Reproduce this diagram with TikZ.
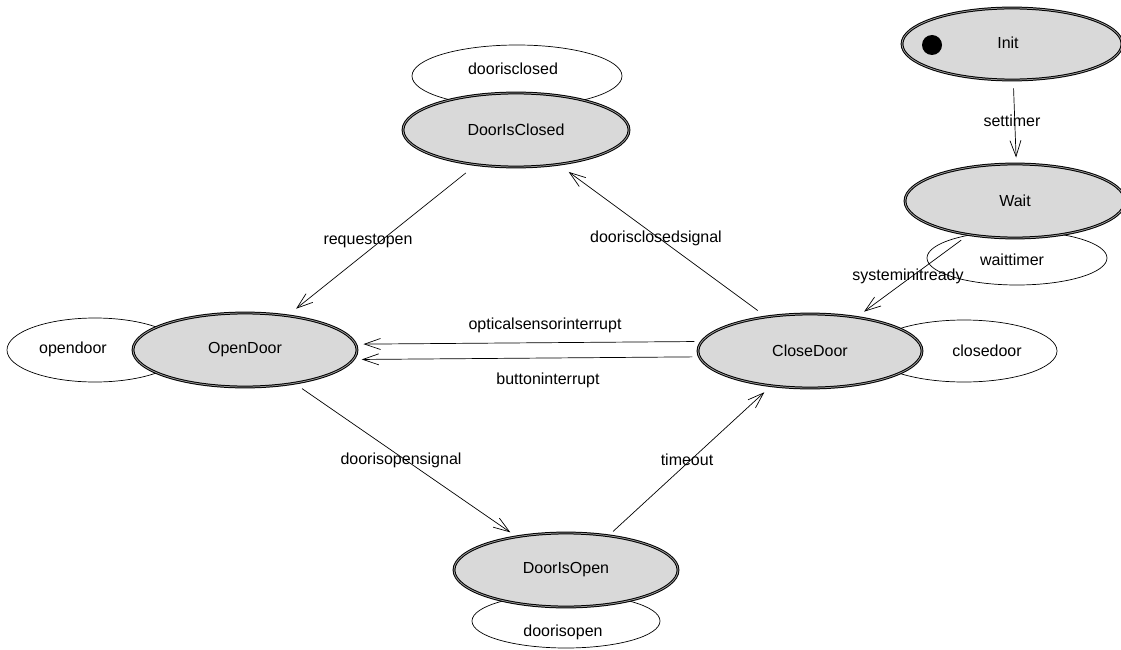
\documentclass[tikz,border=0pt]{standalone}
\usepackage{fontspec}
\setmainfont{Liberation Sans}
\usetikzlibrary{shapes.geometric,arrows.meta}

\tikzset{
  state/.style={ellipse, draw=black, double=white!60!black, double distance=0.8pt,
    line width=1pt, fill=stategray, inner sep=0pt,
    minimum width=224pt, minimum height=74pt},
  action/.style={ellipse, draw=black, line width=0.7pt, fill=white, inner sep=0pt},
  lbl/.style={inner sep=0pt},
  trans/.style={line width=0.7pt, -{Straight Barb[length=16pt,width=11pt,line width=0.7pt]}},
}
\definecolor{stategray}{RGB}{217,217,217}

\begin{document}
\begin{tikzpicture}[x=1pt, y=-1pt, font=\fontsize{16}{19}\selectfont]
\useasboundingbox (0,0) rectangle (1121,650);

% entry/do actions drawn behind the states
\node[action, minimum width=210pt, minimum height=62pt] (aclosed) at (517,76) {};
\node[lbl] at (513,69) {doorisclosed};
\node[action, minimum width=180pt, minimum height=54pt] (await) at (1017,258) {};
\node[lbl] at (1012,260) {waittimer};
\node[action, minimum width=176pt, minimum height=64pt] (aopen) at (95,350) {};
\node[lbl] at (73,349) {opendoor};
\node[action, minimum width=186pt, minimum height=62pt] (aclose) at (964,351) {};
\node[lbl] at (987,351) {closedoor};
\node[action, minimum width=188pt, minimum height=54pt] (aisopen) at (566,621) {};
\node[lbl] at (563,632) {doorisopen};

% states
\node[state, minimum width=220pt, minimum height=72pt] (Init) at (1012,44) {};
\node[lbl] (InitT) at (1008,43) {Init};
\fill (932,45) circle (10pt);
\node[state, minimum width=220pt, minimum height=74pt] (Wait) at (1015,201) {Wait};
\node[state, minimum width=226pt] (DoorIsClosed) at (516,130) {DoorIsClosed};
\node[state] (OpenDoor) at (245,350) {OpenDoor};
\node[state] (CloseDoor) at (810,351) {CloseDoor};
\node[state] (DoorIsOpen) at (566,570) {DoorIsOpen};

% transitions
\draw[trans, shorten <=8pt, shorten >=6pt] (Init.272) -- (Wait.88);
\node[lbl] at (1012,121) {settimer};

\draw[trans, shorten <=12.6pt, shorten >=10.6pt] (DoorIsClosed.221.3) -- (OpenDoor.39.4);
\node[lbl] at (368,241) {requestopen};

\draw[trans, shorten <=10.1pt, shorten >=12.2pt] (CloseDoor.142.96) -- (DoorIsClosed.321.1);
\node[lbl] at (656,238) {doorisclosedsignal};

\draw[trans, shorten <=6.9pt, shorten >=7.3pt] (CloseDoor.175.56) -- (OpenDoor.3.91);
\node[lbl] at (545,325) {opticalsensorinterrupt};

\draw[trans, shorten <=6.4pt, shorten >=7.9pt] (CloseDoor.183.95) -- (OpenDoor.355.6);
\node[lbl] at (548,380) {buttoninterrupt};

\draw[trans, shorten <=8.7pt, shorten >=7.1pt] (OpenDoor.326.3) -- (DoorIsOpen.146.55);
\node[lbl] at (401,460) {doorisopensignal};

\draw[trans, shorten <=5.7pt, shorten >=9pt] (DoorIsOpen.39.56) -- (CloseDoor.222.97);
\node[lbl] at (687,460) {timeout};

\draw[trans, shorten <=8.7pt, shorten >=8.85pt] (Wait.216.87) -- (CloseDoor.36.35);
\node[lbl] at (908,276) {systeminitready};
\end{tikzpicture}
\end{document}
